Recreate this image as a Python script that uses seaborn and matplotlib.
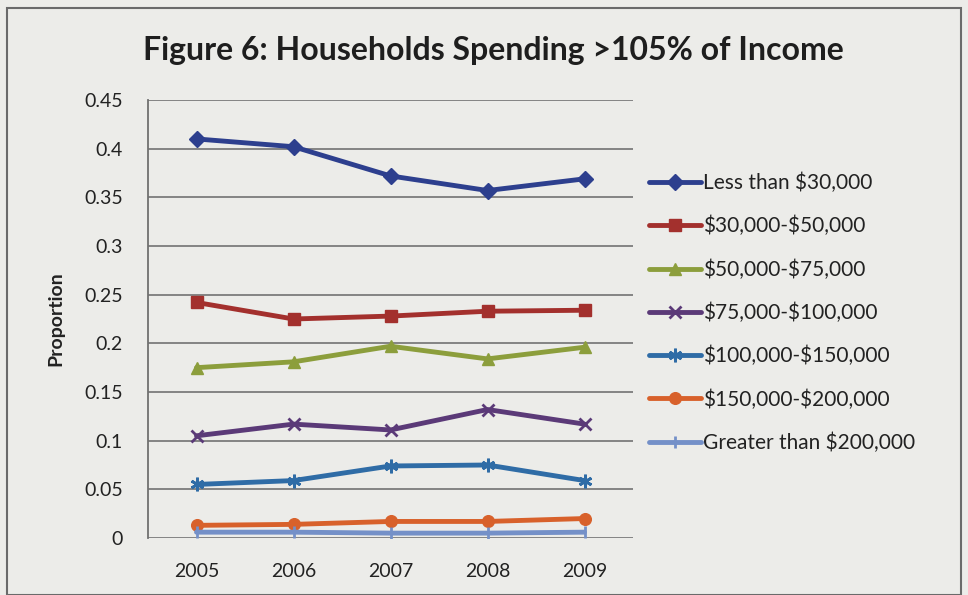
import matplotlib
matplotlib.use("Agg")
import matplotlib.pyplot as plt
import seaborn as sns
import pandas as pd
from matplotlib.patches import Rectangle

years = ["2005", "2006", "2007", "2008", "2009"]
less_30k = [0.410, 0.402, 0.372, 0.357, 0.369]
k30_50 = [0.242, 0.225, 0.228, 0.233, 0.234]
k50_75 = [0.175, 0.181, 0.197, 0.184, 0.196]
k75_100 = [0.105, 0.117, 0.111, 0.132, 0.117]
k100_150 = [0.055, 0.059, 0.074, 0.075, 0.059]
k150_200 = [0.013, 0.014, 0.017, 0.017, 0.020]
over_200k = [0.006, 0.006, 0.005, 0.005, 0.006]

series_names = ["Less than $30,000", "$30,000-$50,000", "$50,000-$75,000",
                "$75,000-$100,000", "$100,000-$150,000", "$150,000-$200,000",
                "Greater than $200,000"]
series_values = [less_30k, k30_50, k50_75, k75_100, k100_150, k150_200, over_200k]
colors = ["#2D3F8E", "#A3302D", "#8C9E3C", "#5B3A78", "#2F6CA6", "#D8612B", "#7490C8"]
markers = ["D", "s", "^", "x", (6, 2, 0), "o", "|"]
msizes = [11, 12, 12, 13, 14, 12, 12]

rows = []
for name, vals in zip(series_names, series_values):
    for i, (yr, v) in enumerate(zip(years, vals)):
        rows.append({"year": yr, "pos": i, "series": name, "value": v})
df = pd.DataFrame(rows)

sns.set_theme(style="white")
plt.rcParams["font.family"] = ["Lato", "DejaVu Sans"]
plt.rcParams["text.parse_math"] = False

bg = "#ECECE9"
fig = plt.figure(figsize=(9.68, 5.95), dpi=100, facecolor=bg)
ax = fig.add_axes([148 / 968, 57 / 595, (633 - 148) / 968, (538 - 100) / 595])
ax.set_facecolor(bg)

for name, col, mk, ms in zip(series_names, colors, markers, msizes):
    sub = df[df["series"] == name]
    thin = mk in ("x", "|") or isinstance(mk, tuple)
    sns.lineplot(data=sub, x="pos", y="value", ax=ax, color=col, marker=mk,
                 markersize=ms, linewidth=3.5, label=name,
                 markeredgecolor=col, markeredgewidth=2 if thin else 1,
                 legend=False)

ax.set_xlim(-0.5, 4.5)
ax.set_ylim(0, 0.45)
ax.set_yticks([0, 0.05, 0.1, 0.15, 0.2, 0.25, 0.3, 0.35, 0.4, 0.45])
ax.set_yticklabels(["0", "0.05", "0.1", "0.15", "0.2", "0.25", "0.3", "0.35", "0.4", "0.45"])
ax.set_xticks(range(len(years)))
ax.set_xticklabels(years)
ax.yaxis.grid(True, color="#7C7C7C", linewidth=1.3)
ax.set_axisbelow(True)
for s in ["top", "right", "bottom"]:
    ax.spines[s].set_visible(False)
ax.spines["left"].set_color("#707070")
ax.spines["left"].set_linewidth(1.3)
ax.tick_params(axis="y", labelsize=14, colors="#222222", pad=18, length=0)
ax.tick_params(axis="x", labelsize=14, colors="#222222", pad=18, length=0)
ax.set_xlabel("")
ax.set_ylabel("Proportion", fontsize=14, fontweight="bold", color="#222222", labelpad=14)

handles, labels = ax.get_legend_handles_labels()
for h in handles:
    h.set_markersize(h.get_markersize() * 0.7)
leg = fig.legend(handles, labels, loc="upper left", bbox_to_anchor=(630 / 968, 1 - 154 / 595),
                 frameon=False, fontsize=15, labelspacing=1.1, handlelength=2.5,
                 handletextpad=0.1, labelcolor="#222222")

fig.suptitle("Figure 6: Households Spending >105% of Income", x=0.51, y=0.94,
             fontsize=23, fontweight="bold", color="#1E1E1E")

fig.patches.append(Rectangle((7 / 968, 0), (968 - 14) / 968, 1 - 8 / 595,
                             transform=fig.transFigure, fill=False,
                             edgecolor="#6A6A6A", linewidth=1.5))

fig.savefig("out.png", dpi=100, facecolor=bg)
